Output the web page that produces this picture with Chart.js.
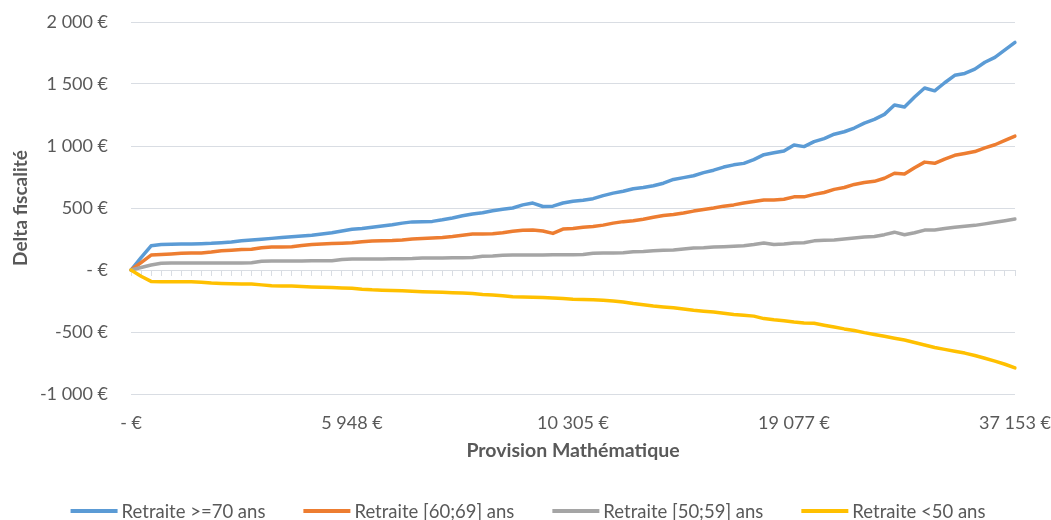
<!DOCTYPE html>
<html lang="fr">
<head>
<meta charset="utf-8">
<title>Delta fiscalité</title>
<script src="https://cdn.jsdelivr.net/npm/chart.js@4.4.1/dist/chart.umd.min.js"></script>
<style>
  html, body { margin: 0; padding: 0; background: #ffffff; }
  #chart { display: block; }
</style>
</head>
<body>
<canvas id="chart" width="1051" height="520"></canvas>
<script>
// Provision amounts shown under the category axis (one every 22 points)
const tickLabels = ['- €', '5 948 €', '10 305 €', '19 077 €', '37 153 €'];
const labelStep = 22;

// Delta fiscalité (€) per point, by retiree age band
const retraite70plus = [
  0, 100, 195, 205, 208, 210, 210, 212, 215, 220,
  225, 235, 242, 248, 255, 262, 268, 275, 280, 290,
  300, 315, 328, 335, 345, 355, 365, 378, 388, 390,
  392, 405, 420, 437, 452, 462, 478, 490, 500, 525,
  540, 512, 515, 540, 555, 562, 575, 600, 620, 635,
  655, 665, 680, 700, 730, 745, 760, 785, 805, 830,
  848, 860, 890, 930, 945, 960, 1008, 995, 1035, 1060,
  1095, 1115, 1145, 1185, 1215, 1255, 1330, 1315, 1395, 1468,
  1445, 1510, 1570, 1585, 1620, 1675, 1715, 1775, 1835
];
const retraite60_69 = [
  0, 60, 120, 125, 130, 135, 137, 138, 145, 155,
  160, 165, 168, 180, 185, 186, 188, 198, 205, 210,
  213, 216, 220, 228, 234, 236, 238, 242, 250, 255,
  258, 262, 270, 280, 290, 291, 292, 300, 312, 320,
  323, 315, 295, 330, 335, 345, 350, 362, 378, 390,
  398, 410, 425, 440, 448, 460, 475, 488, 500, 515,
  525, 540, 552, 565, 565, 570, 590, 590, 610, 625,
  650, 665, 690, 705, 715, 740, 780, 775, 825, 870,
  860, 895, 925, 940, 955, 985, 1010, 1045, 1080
];
const retraite50_59 = [
  0, 20, 40, 55, 56, 56, 56, 56, 56, 56,
  57, 57, 58, 70, 73, 73, 73, 73, 74, 74,
  75, 85, 89, 89, 89, 89, 90, 90, 92, 97,
  97, 97, 98, 98, 100, 110, 113, 118, 121, 121,
  121, 121, 122, 122, 122, 125, 135, 137, 137, 140,
  148, 150, 155, 160, 162, 170, 177, 180, 185, 188,
  192, 195, 205, 218, 205, 210, 218, 220, 235, 240,
  242, 250, 258, 266, 270, 285, 305, 284, 300, 322,
  323, 335, 345, 353, 360, 372, 385, 398, 411
];
const retraiteMoins50 = [
  0, -50, -92, -95, -95, -95, -95, -98, -105, -108,
  -110, -112, -113, -120, -127, -129, -130, -133, -137, -140,
  -142, -145, -147, -155, -160, -163, -165, -168, -172, -175,
  -178, -180, -183, -186, -190, -197, -202, -208, -215, -218,
  -220, -222, -226, -230, -235, -238, -240, -244, -250, -258,
  -270, -280, -290, -298, -305, -315, -325, -332, -338, -348,
  -358, -365, -372, -392, -402, -410, -420, -427, -430, -445,
  -460, -475, -488, -505, -520, -535, -550, -565, -585, -605,
  -625, -640, -655, -670, -690, -712, -735, -760, -790
];

const seriesNames = ['Retraite >=70 ans', 'Retraite [60;69] ans', 'Retraite [50;59] ans', 'Retraite <50 ans'];
const seriesColors = ['#5b9bd5', '#ed7d31', '#a5a5a5', '#ffc000'];
const seriesValues = [retraite70plus, retraite60_69, retraite50_59, retraiteMoins50];

// Category list: one entry per point, labelled every labelStep points
const categories = retraite70plus.map((_, i) => (i % labelStep === 0 ? tickLabels[i / labelStep] : ''));

const FONT = 'Lato, "Open Sans", "Noto Sans", sans-serif';
const TEXT = '#595959';
const GRID = '#d9dde3';
const FS = 18;

function euro(v) {
  if (v === 0) return '- €';
  const s = String(Math.abs(v)).replace(/\B(?=(\d{3})+(?!\d))/g, ' ');
  return (v < 0 ? '-' : '') + s + ' €';
}

// Line-sample legend centred under the chart
const bottomLegend = {
  id: 'bottomLegend',
  afterDraw(chart, args, opts) {
    const { ctx } = chart;
    const items = chart.data.datasets.map(d => ({ text: d.label, color: d.borderColor }));
    ctx.save();
    ctx.font = `${opts.size}px ${FONT}`;
    const widths = items.map(it => opts.swatch + opts.gap + ctx.measureText(it.text).width);
    const total = widths.reduce((a, b) => a + b, 0) + opts.spacing * (items.length - 1);
    let x = opts.centerX - total / 2;
    const y = opts.y;
    items.forEach((it, i) => {
      ctx.strokeStyle = it.color;
      ctx.lineWidth = 4;
      ctx.lineCap = 'butt';
      ctx.beginPath();
      ctx.moveTo(x, y);
      ctx.lineTo(x + opts.swatch, y);
      ctx.stroke();
      ctx.fillStyle = TEXT;
      ctx.textAlign = 'left';
      ctx.textBaseline = 'middle';
      ctx.fillText(it.text, x + opts.swatch + opts.gap, y + 1);
      x += widths[i] + opts.spacing;
    });
    ctx.restore();
  }
};

new Chart(document.getElementById('chart'), {
  type: 'line',
  data: {
    labels: categories,
    datasets: seriesValues.map((vals, k) => ({
      label: seriesNames[k],
      data: vals,
      borderColor: seriesColors[k],
      backgroundColor: seriesColors[k],
      borderWidth: 3.5,
      pointRadius: 0,
      pointHoverRadius: 0,
      tension: 0,
      fill: false,
      borderCapStyle: 'round',
      borderJoinStyle: 'round',
      order: seriesValues.length - k
    }))
  },
  options: {
    responsive: false,
    animation: false,
    devicePixelRatio: 1,
    layout: { padding: { top: 22, right: 36, bottom: 46, left: 0 } },
    plugins: {
      legend: { display: false },
      tooltip: { enabled: false },
      bottomLegend: { size: 18.5, swatch: 47, gap: 4, spacing: 38, centerX: 528, y: 511 }
    },
    scales: {
      x: {
        type: 'category',
        position: { y: 0 },
        offset: false,
        grid: { drawOnChartArea: false, drawTicks: true, tickLength: 5, color: GRID },
        border: { display: true, color: GRID, width: 1 },
        ticks: { display: false, autoSkip: false }
      },
      x2: {
        type: 'category',
        position: 'bottom',
        offset: false,
        grid: { display: false },
        border: { display: false },
        ticks: {
          autoSkip: false,
          maxRotation: 0,
          padding: 10,
          color: TEXT,
          font: { family: FONT, size: FS },
          callback: (v, i) => categories[i]
        },
        title: {
          display: true,
          text: 'Provision Mathématique',
          color: TEXT,
          font: { family: FONT, size: 19.5, weight: 'bold' },
          padding: { top: 0, bottom: 12 }
        },
        afterFit: s => {
          s.height = 80;
          s.paddingLeft = 0;
          s.paddingRight = 0;
        }
      },
      y: {
        min: -1000,
        max: 2000,
        grid: { color: GRID, drawTicks: false },
        border: { display: false },
        ticks: {
          stepSize: 500,
          padding: 23,
          color: TEXT,
          font: { family: FONT, size: FS },
          callback: v => euro(v)
        },
        title: {
          display: true,
          text: 'Delta fiscalité',
          color: TEXT,
          font: { family: FONT, size: 19, weight: 'bold' },
          padding: { top: 9, bottom: 0 }
        },
        afterFit: s => {
          s.width = 131;
          s.paddingTop = 0;
          s.paddingBottom = 0;
        }
      }
    }
  },
  plugins: [bottomLegend]
});
</script>
</body>
</html>
